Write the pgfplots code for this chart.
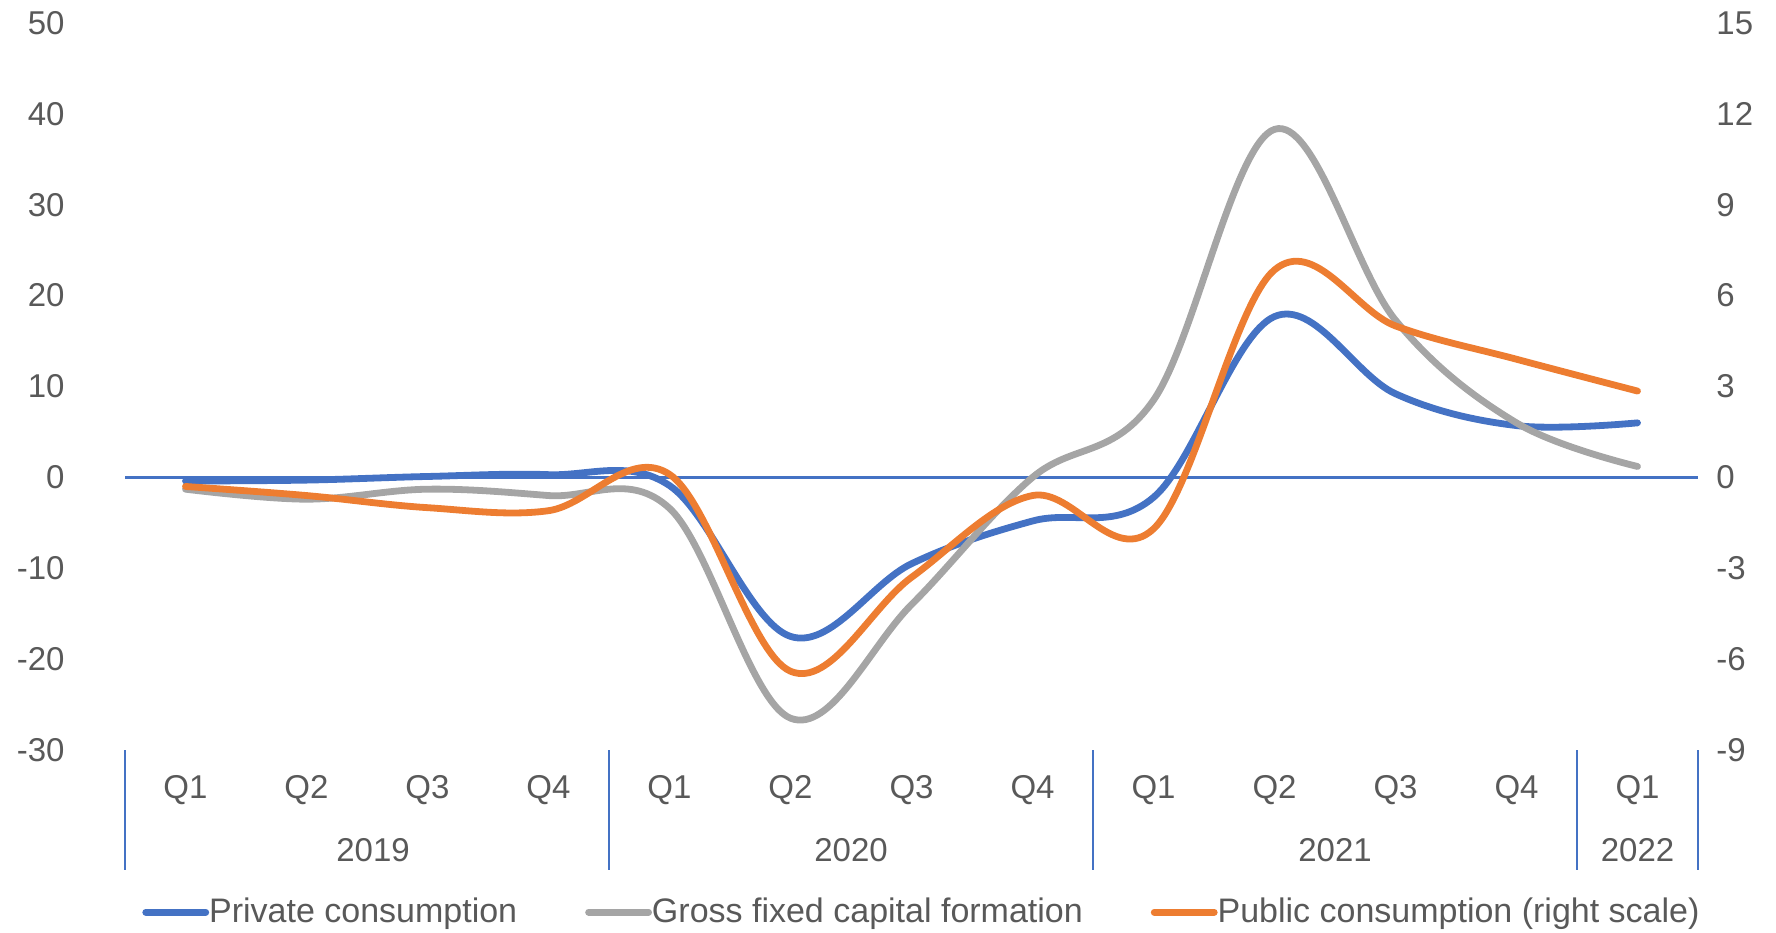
\documentclass[border=0pt]{standalone}
\usepackage{fontspec}
\setmainfont{Liberation Sans}
\usepackage{pgfplots}
\pgfplotsset{compat=1.18}

\definecolor{pcblue}{HTML}{4472C4}
\definecolor{gfgray}{HTML}{A5A5A5}
\definecolor{puborange}{HTML}{ED7D31}
\definecolor{labelgray}{HTML}{595959}

\newcommand{\chartfont}{\fontsize{16.5}{19}\selectfont}

\pgfplotsset{
  base/.style={
    at={(62.5pt,91pt)}, anchor=south west,
    width=786.5pt, height=363.5pt, scale only axis,
    xmin=-0.5, xmax=12.5,
    axis line style={draw=none},
    tick label style={font=\chartfont, text=labelgray},
    /pgf/number format/assume math mode=true,
    ytick style={draw=none},
    clip=false,
  },
  series/.style={line width=3.4pt, line cap=round, line join=round, smooth, tension=0.6},
}

\begin{document}
\begin{tikzpicture}[font=\chartfont]
\useasboundingbox (0,0) rectangle (888pt,466pt);

% left scale: private consumption and GFCF
\begin{axis}[
    base,
    ymin=-30, ymax=50,
    ytick={-30,-20,...,50},
    yticklabel style={anchor=east, inner xsep=0pt, xshift=-30pt},
    ytick pos=left,
    xtick={0,...,12},
    xticklabels={Q1,Q2,Q3,Q4,Q1,Q2,Q3,Q4,Q1,Q2,Q3,Q4,Q1},
    xticklabel style={anchor=center, yshift=-20pt},
    xtick pos=bottom,
    major x tick style={draw=none},
    extra y ticks={0},
    extra y tick labels={},
    extra y tick style={ymajorgrids=true,
        major grid style={draw=pcblue, line width=1.2pt}},
]
    \addplot[series, pcblue] coordinates {
        (0,-0.4)(1,-0.3)(2,0.1)(3,0.3)(4,-0.9)(5,-17.5)(6,-9.5)
        (7,-4.8)(8,-2.2)(9,17.7)(10,9.2)(11,5.7)(12,6.0)};
    \addplot[series, gfgray] coordinates {
        (0,-1.3)(1,-2.4)(2,-1.3)(3,-2.0)(4,-3.4)(5,-26.5)(6,-14.0)
        (7,0.0)(8,8.5)(9,38.3)(10,17.3)(11,6.0)(12,1.2)};

    % category group separators and year labels
    \pgfplotsinvokeforeach{-0.5,3.5,7.5,11.5,12.5}{
        \draw[pcblue, line width=1pt] (axis cs:#1,-30) -- ([yshift=-60pt]axis cs:#1,-30);
    }
    \node[text=labelgray] at (axis cs:1.55,-30) [yshift=-50pt] {2019};
    \node[text=labelgray] at (axis cs:5.5,-30) [yshift=-50pt] {2020};
    \node[text=labelgray] at (axis cs:9.5,-30) [yshift=-50pt] {2021};
    \node[text=labelgray] at (axis cs:12,-30) [yshift=-50pt] {2022};
\end{axis}

% right scale: public consumption
\begin{axis}[
    base,
    ymin=-9, ymax=15,
    ytick={-9,-6,...,15},
    ytick pos=right,
    yticklabel pos=right,
    yticklabel style={anchor=west, inner xsep=0pt, xshift=9pt},
    xtick=\empty,
    legend columns=3,
    legend style={at={(0.506,-0.223)}, anchor=center, draw=none, fill=none,
        font=\fontsize{17}{20}\selectfont, text=labelgray,
        nodes={inner xsep=0pt},
        /tikz/every odd column/.append style={column sep=0pt},
        /tikz/every even column/.append style={column sep=34pt}},
    legend image code/.code={
        \draw[#1, line width=3.4pt, line cap=round] (0pt,0pt) -- (30pt,0pt);},
]
    \addlegendimage{pcblue}
    \addlegendentry{Private consumption}
    \addlegendimage{gfgray}
    \addlegendentry{Gross fixed capital formation}
    \addplot[series, puborange] coordinates {
        (0,-0.3)(1,-0.6)(2,-1.0)(3,-1.1)(4,0.1)(5,-6.4)(6,-3.3)
        (7,-0.6)(8,-1.7)(9,6.85)(10,5.0)(11,3.9)(12,2.85)};
    \addlegendentry{Public consumption (right scale)}
\end{axis}
\end{tikzpicture}
\end{document}
